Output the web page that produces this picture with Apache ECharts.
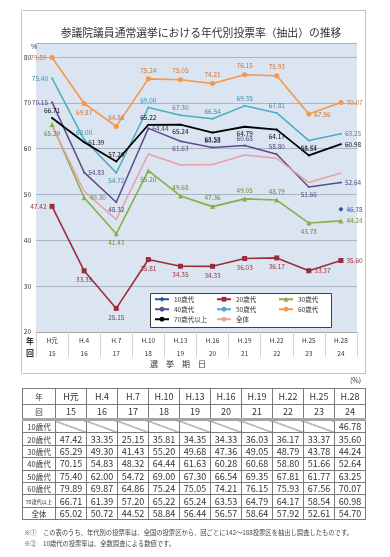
<!DOCTYPE html>
<html><head><meta charset="utf-8">
<script src="https://cdn.jsdelivr.net/npm/echarts@6/dist/echarts.min.js"></script>
<style>
html,body{margin:0;padding:0;background:#fff;}
#wrap{position:relative;width:390px;height:557px;overflow:hidden;font-family:'Noto Sans CJK JP',sans-serif;}
#chart{position:absolute;left:0;top:0;width:390px;height:386px;}
#tbl{position:absolute;left:22px;top:388px;border-collapse:collapse;table-layout:fixed;color:#333;}
#tbl td{border:1px solid #7a7a7a;padding:0;text-align:center;font-size:9px;line-height:11px;height:11.4px;white-space:nowrap;overflow:hidden;}
#tbl tr.h1 td{height:15px;}
#tbl tr.h2 td{height:13px;border-bottom:3px solid #a6a6a6;}
#tbl td.lab{font-size:7.5px;}
#tbl td.lab.small{font-size:5.2px;}
#tbl td.diag{background:linear-gradient(to top right,transparent calc(50% - 0.6px),#333 50%,transparent calc(50% + 0.6px));}
#unit{position:absolute;left:350px;top:375px;font-size:7px;color:#333;}
.note{position:absolute;left:24px;font-size:6.3px;color:#444;white-space:nowrap;}
</style></head>
<body><div id="wrap"><div id="chart"></div><div id="unit">(%)</div><table id="tbl"></table>
<div class="note" style="top:528px">※①　この表のうち、年代別の投票率は、全国の投票区から、回ごとに142～188投票区を抽出し調査したものです。</div>
<div class="note" style="top:539px">※②　10歳代の投票率は、全数調査による数値です。</div>
</div>
<script>
const eraLabels = ['H元','H.4','H.7','H.10','H.13','H.16','H.19','H.22','H.25','H.28'];
const roundLabels = ['15','16','17','18','19','20','21','22','23','24'];
const seriesNames = ['10歳代','20歳代','30歳代','40歳代','50歳代','60歳代','70歳代以上','全体'];
const age10 = [null,null,null,null,null,null,null,null,null,46.78];
const age20 = [47.42,33.35,25.15,35.81,34.35,34.33,36.03,36.17,33.37,35.60];
const age30 = [65.29,49.30,41.43,55.20,49.68,47.36,49.05,48.79,43.78,44.24];
const age40 = [70.15,54.83,48.32,64.44,61.63,60.28,60.68,58.80,51.66,52.64];
const age50 = [75.40,62.00,54.72,69.00,67.30,66.54,69.35,67.81,61.77,63.25];
const age60 = [79.89,69.87,64.86,75.24,75.05,74.21,76.15,75.93,67.56,70.07];
const age70 = [66.71,61.39,57.20,65.22,65.24,63.53,64.79,64.17,58.54,60.98];
const allAges = [65.02,50.72,44.52,58.84,56.44,56.57,58.64,57.92,52.61,54.70];
const seriesData = [age10,age20,age30,age40,age50,age60,age70,allAges];

// styling (not data)
const styles = [
  {color:'#2b50a0', label:'#2b4fa0', symbol:'diamond', size:5, width:1.5, pos:['right','right','right','right','right','right','right','right','right','right']},
  {color:'#9b2d3b', label:'#97323c', symbol:'rect', size:5, width:1.6, pos:['left','bottom','bottom','bottom','bottom','bottom','bottom','bottom','right','right']},
  {color:'#8aad4a', label:'#6e8c35', symbol:'triangle', size:5, width:1.6, pos:['bottom','right','bottom','bottom','top','top','top','top','bottom','right']},
  {color:'#604a8b', label:'#55457a', symbol:'circle', size:2, width:1.5, pos:['left','right','bottom','right','bottom','top','top','top','bottom','right']},
  {color:'#4bacc6', label:'#3a8fa8', symbol:'circle', size:2, width:1.5, pos:['left','top','bottom','top','top','top','top','top','bottom','right']},
  {color:'#f79646', label:'#cf7438', symbol:'circle', size:5, width:1.6, pos:['left','bottom','top','top','top','top','top','top','right','right']},
  {color:'#000000', label:'#111111', symbol:'circle', size:2, width:1.8, pos:['top','right','top','top','bottom','bottom','bottom','bottom','top','right']},
  {color:'#e8a0a8', label:'#e57a8b', symbol:'none', size:0, width:1.5, pos:['left','top','top','top','top','top','top','bottom','top','right']}
];

const series = seriesNames.map((name,si)=>{
  const st = styles[si];
  return {
    name, type:'line', connectNulls:false,
    symbol: st.symbol, symbolSize: st.size, showSymbol:true,
    lineStyle:{color:st.color,width:st.width},
    itemStyle:{color:st.color},
    data: seriesData[si].map((v,i)=> v==null ? null : {value:v, label:{position:st.pos[i]}}),
    label:{show:true, fontSize:6.5, color:st.label, distance:3, formatter:p=>p.value.toFixed(2)},
    emphasis:{disabled:true}, animation:false, z: 2
  };
});

const chart = echarts.init(document.getElementById('chart'), null, {renderer:'canvas'});
const legendBase = {orient:'vertical', top:296, itemGap:3.5, itemWidth:14, itemHeight:6, textStyle:{fontSize:6.5, color:'#333', fontFamily:'Noto Sans CJK JP'}, padding:0, selectedMode:false, z:5};
chart.setOption({
  animation:false,
  textStyle:{fontFamily:'Noto Sans CJK JP, sans-serif'},
  grid:{left:36, right:33, top:43.3, bottom:54, show:true, backgroundColor:'#dbe5f1', borderWidth:0, containLabel:false, outerBoundsMode:'none'},
  xAxis:{type:'category', data: eraLabels.map((e,i)=>e+'\n'+roundLabels[i]), boundaryGap:true,
    axisLine:{lineStyle:{color:'#a6a6a6'}},
    axisTick:{show:true, interval:0, length:25, lineStyle:{color:'#d4d4d4'}},
    axisLabel:{interval:0, fontSize:6.5, lineHeight:13, color:'#333', margin:2}},
  yAxis:{type:'value', min:20, max:83, interval:10,
    axisLine:{show:false}, axisTick:{show:false},
    axisLabel:{fontSize:6.5, color:'#333', margin:5, formatter:v=> v%10===0 ? String(v) : ''},
    splitLine:{lineStyle:{color:'#aab5c3', width:1}}},
  legend:[
    Object.assign({}, legendBase, {left:154, data:['10歳代','40歳代','70歳代以上']}),
    Object.assign({}, legendBase, {left:216, data:['20歳代','50歳代','全体']}),
    Object.assign({}, legendBase, {left:278, data:['30歳代','60歳代']})
  ],
  graphic:[
    {type:'rect', shape:{x:21.5,y:10.5,width:344,height:363}, style:{fill:'none', stroke:'#c4c4c4', lineWidth:1}, z:1, silent:true},
    {type:'rect', shape:{x:150.5,y:293.5,width:181,height:34}, style:{fill:'#ffffff', stroke:'#404040', lineWidth:1}, z:4, silent:true},
    {type:'text', x:201, y:33, style:{text:'参議院議員通常選挙における年代別投票率（抽出）の推移', fontSize:10.8, fill:'#333', align:'center', verticalAlign:'middle', fontFamily:'Noto Sans CJK JP'}, z:5},
    {type:'text', x:31, y:47, style:{text:'%', fontSize:7, fill:'#333', align:'left', verticalAlign:'middle'}, z:5},
    {type:'text', x:30, y:341, style:{text:'年', fontSize:8, fontWeight:'bold', fill:'#333', align:'center', verticalAlign:'middle', fontFamily:'Noto Sans CJK JP'}, z:5},
    {type:'text', x:30, y:353, style:{text:'回', fontSize:8, fontWeight:'bold', fill:'#333', align:'center', verticalAlign:'middle', fontFamily:'Noto Sans CJK JP'}, z:5},
    {type:'text', x:178, y:364, style:{text:'選　挙　期　日', fontSize:8, fill:'#333', align:'center', verticalAlign:'middle', fontFamily:'Noto Sans CJK JP'}, z:5}
  ],
  series
});

// table
const tbl = document.getElementById('tbl');
let html = '<colgroup><col style="width:33px">' + eraLabels.map(()=> '<col style="width:31px">').join('') + '</colgroup>';
html += '<tr class="h1"><td class="lab">年</td>' + eraLabels.map(e=>'<td>'+e+'</td>').join('') + '</tr>';
html += '<tr class="h2"><td class="lab">回</td>' + roundLabels.map(r=>'<td>'+r+'</td>').join('') + '</tr>';
seriesNames.forEach((name,si)=>{
  const cls = name.length > 4 ? 'lab small' : 'lab';
  html += '<tr><td class="'+cls+'">'+name+'</td>' + seriesData[si].map(v=> v==null ? '<td class="diag"></td>' : '<td>'+v.toFixed(2)+'</td>').join('') + '</tr>';
});
tbl.innerHTML = html;
</script>
</body></html>
